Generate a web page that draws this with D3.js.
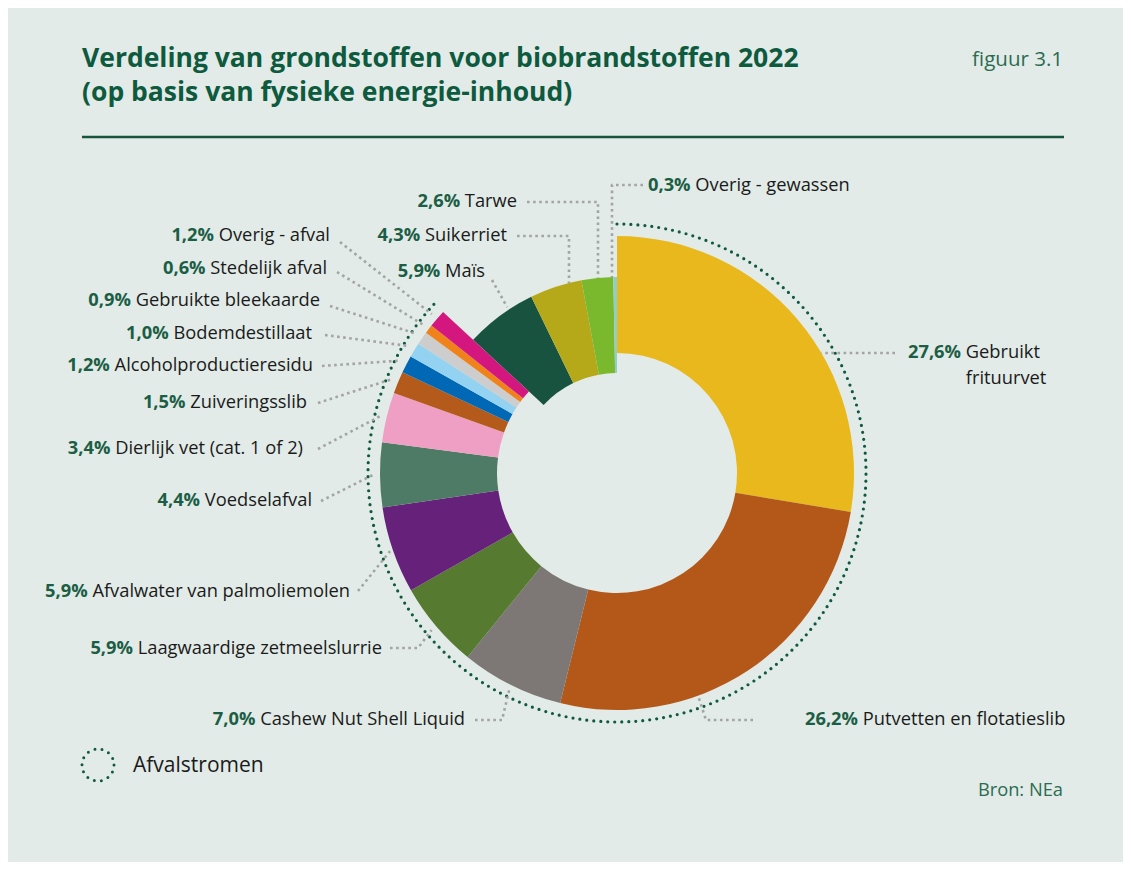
<!DOCTYPE html>
<html lang="nl">
<head>
<meta charset="utf-8">
<script src="https://cdn.jsdelivr.net/npm/d3@7/dist/d3.min.js"></script>
<style>
  html, body { margin: 0; padding: 0; background: #ffffff; }
  svg { display: block; font-family: "Open Sans", Lato, sans-serif; }
</style>
</head>
<body>
<svg id="chart" width="1131" height="870"></svg>
<script>
// Feedstock shares (% of physical energy content), clockwise from 12 o'clock
const categories = [
  "Gebruikt frituurvet", "Putvetten en flotatieslib", "Cashew Nut Shell Liquid",
  "Laagwaardige zetmeelslurrie", "Afvalwater van palmoliemolen", "Voedselafval",
  "Dierlijk vet (cat. 1 of 2)", "Zuiveringsslib", "Alcoholproductieresidu",
  "Bodemdestillaat", "Gebruikte bleekaarde", "Stedelijk afval", "Overig - afval",
  "Maïs", "Suikerriet", "Tarwe", "Overig - gewassen"
];
const values = [27.6, 26.2, 7.0, 5.9, 5.9, 4.4, 3.4, 1.5, 1.2, 1.0, 0.9, 0.6, 1.2, 5.9, 4.3, 2.6, 0.3];
const valueLabels = ["27,6%", "26,2%", "7,0%", "5,9%", "5,9%", "4,4%", "3,4%", "1,5%", "1,2%",
  "1,0%", "0,9%", "0,6%", "1,2%", "5,9%", "4,3%", "2,6%", "0,3%"];
// true = waste stream (afvalstroom), false = crop
const isWaste = [true, true, true, true, true, true, true, true, true, true, true, true, true,
  false, false, false, false];
const colors = [
  "#e9b81c", "#b45819", "#7d7876", "#567a30", "#66217a", "#4e7b66",
  "#f09fc4", "#b45a1b", "#0068b4", "#93d2f0", "#cdcdcd", "#f0821c", "#d4177f",
  "#17533f", "#b5a91a", "#7ab92d", "#8ecfcc"
];

const W = 1131, H = 870;
const cx = 617, cy = 473;
const ring = { waste: [120, 237], crop: [100, 196] };
const streamRadius = 249;

const svg = d3.select("#chart");

// panel
svg.append("rect").attr("x", 8).attr("y", 8).attr("width", W - 16).attr("height", H - 16)
  .attr("fill", "#e2ebe7");

// heading
const titleColor = "#0e5a3e";
const title = svg.append("text").attr("x", 82).attr("fill", titleColor)
  .attr("font-weight", 700).attr("font-size", 26.5);
title.append("tspan").attr("x", 82).attr("y", 67).text("Verdeling van grondstoffen voor biobrandstoffen 2022");
title.append("tspan").attr("x", 82).attr("y", 101).text("(op basis van fysieke energie-inhoud)");

svg.append("text").attr("x", 1063).attr("y", 66).attr("text-anchor", "end")
  .attr("fill", "#2b6b52").attr("font-size", 20.5).text("figuur 3.1");

svg.append("line").attr("x1", 82).attr("x2", 1064).attr("y1", 137).attr("y2", 137)
  .attr("stroke", "#17553d").attr("stroke-width", 2.6);

// donut
const pie = d3.pie().sort(null).value(d => d.value).startAngle(0).endAngle(2 * Math.PI);
const data = categories.map((c, i) => ({
  name: c, value: values[i], label: valueLabels[i], waste: isWaste[i], color: colors[i]
}));
const arcs = pie(data);

const arcGen = d3.arc()
  .innerRadius(d => (d.data.waste ? ring.waste : ring.crop)[0])
  .outerRadius(d => (d.data.waste ? ring.waste : ring.crop)[1]);

const g = svg.append("g").attr("transform", `translate(${cx},${cy})`);
g.selectAll("path.slice").data(arcs).join("path")
  .attr("class", "slice")
  .attr("d", arcGen)
  .attr("fill", d => d.data.color);

// dotted ring around the waste streams
const wasteArcs = arcs.filter(a => a.data.waste);
const wasteStart = d3.min(wasteArcs, a => a.startAngle);
const wasteEnd = d3.max(wasteArcs, a => a.endAngle);
const ringPath = d3.path();
ringPath.arc(0, 0, streamRadius, wasteStart - Math.PI / 2, wasteEnd - Math.PI / 2);
g.append("path").attr("d", ringPath.toString())
  .attr("fill", "none").attr("stroke", "#0f5a3e").attr("stroke-width", 3.2)
  .attr("stroke-linecap", "round").attr("stroke-dasharray", "0 7");

// label placement: text anchor, side, optional elbow, and where the leader meets the ring
const layout = {
  "Gebruikt frituurvet":          { x: 908, y: 358, anchor: "start", hline: true },
  "Putvetten en flotatieslib":    { x: 805, y: 725, anchor: "start", from: [753, 720], elbow: [706, 720], angle: 160 },
  "Cashew Nut Shell Liquid":      { x: 465, y: 725, anchor: "end", from: [475, 720], elbow: [502, 720], r: 241 },
  "Laagwaardige zetmeelslurrie":  { x: 382, y: 654, anchor: "end", from: [390, 648], elbow: [418, 648], r: 243 },
  "Afvalwater van palmoliemolen": { x: 350, y: 597, anchor: "end", from: [358, 591], r: 240 },
  "Voedselafval":                 { x: 312, y: 506, anchor: "end", from: [321, 501], r: 244 },
  "Dierlijk vet (cat. 1 of 2)":   { x: 303, y: 454, anchor: "end", from: [318, 449], r: 243 },
  "Zuiveringsslib":               { x: 307, y: 408, anchor: "end", from: [318, 403], r: 245 },
  "Alcoholproductieresidu":       { x: 313, y: 371, anchor: "end", from: [322, 366], r: 245 },
  "Bodemdestillaat":              { x: 312, y: 339, anchor: "end", from: [325, 335], r: 245 },
  "Gebruikte bleekaarde":         { x: 320, y: 306, anchor: "end", from: [330, 306], r: 245 },
  "Stedelijk afval":              { x: 327, y: 274, anchor: "end", from: [337, 272], r: 245 },
  "Overig - afval":               { x: 330, y: 241, anchor: "end", from: [340, 242], r: 244 },
  "Maïs":                         { x: 485, y: 277, anchor: "end", from: [492, 280], angle: 326.5, r: 199 },
  "Suikerriet":                   { x: 507, y: 241, anchor: "end", from: [517, 236], elbow: [569, 236], vertical: true },
  "Tarwe":                        { x: 517, y: 207, anchor: "end", from: [527, 202], elbow: [598, 202], vertical: true },
  "Overig - gewassen":            { x: 648, y: 191, anchor: "start", from: [643, 185], elbow: [612, 185], vertical: true }
};

const leaderG = svg.append("g");
const labelG = svg.append("g").attr("font-size", 18.3);
const line = d3.line();

arcs.forEach(a => {
  const L = layout[a.data.name];
  const outer = (a.data.waste ? ring.waste : ring.crop)[1];
  let pts;
  if (L.hline) {
    // horizontal leader at label height, starting on the slice edge
    const yy = L.y - 5;
    const dy = yy - cy;
    const xEdge = cx + Math.sqrt(outer * outer - dy * dy);
    pts = [[L.x - 13, yy], [xEdge, yy]];
  } else if (L.vertical) {
    // horizontal run, then straight down onto the ring
    const ex = L.elbow[0] - cx;
    pts = [L.from, L.elbow, [L.elbow[0], cy - Math.sqrt(outer * outer - ex * ex)]];
  } else {
    const ang = L.angle !== undefined ? L.angle * Math.PI / 180 : (a.startAngle + a.endAngle) / 2;
    const r = L.r || outer;
    const end = [cx + r * Math.sin(ang), cy - r * Math.cos(ang)];
    pts = L.elbow ? [L.from, L.elbow, end] : [L.from, end];
  }
  leaderG.append("path").attr("d", line(pts))
    .attr("fill", "none").attr("stroke", "#a4a4a4").attr("stroke-width", 2.6)
    .attr("stroke-dasharray", "2.6 3.5");

  const t = labelG.append("text").attr("x", L.x).attr("y", L.y).attr("text-anchor", L.anchor);
  t.append("tspan").attr("font-weight", 700).attr("fill", "#1b5e45").text(a.data.label);
  if (a.data.name === "Gebruikt frituurvet") {
    t.append("tspan").attr("fill", "#1a1a1a").text(" Gebruikt");
    // second line starts under "Gebruikt"
    const gx = t.node().getStartPositionOfChar(a.data.label.length + 1).x;
    labelG.append("text").attr("x", gx).attr("y", L.y + 26)
      .attr("fill", "#1a1a1a").text("frituurvet");
  } else {
    t.append("tspan").attr("fill", "#1a1a1a").text(" " + a.data.name);
  }
});

// legend
svg.append("circle").attr("cx", 98).attr("cy", 765).attr("r", 16)
  .attr("fill", "none").attr("stroke", "#0f5a3e").attr("stroke-width", 3)
  .attr("stroke-linecap", "round").attr("stroke-dasharray", "0 7.18");
svg.append("text").attr("x", 133).attr("y", 772).attr("font-size", 21)
  .attr("fill", "#1a1a1a").text("Afvalstromen");

svg.append("text").attr("x", 1063).attr("y", 796).attr("text-anchor", "end")
  .attr("font-size", 18.3).attr("fill", "#2b6b52").text("Bron: NEa");
</script>
</body>
</html>
